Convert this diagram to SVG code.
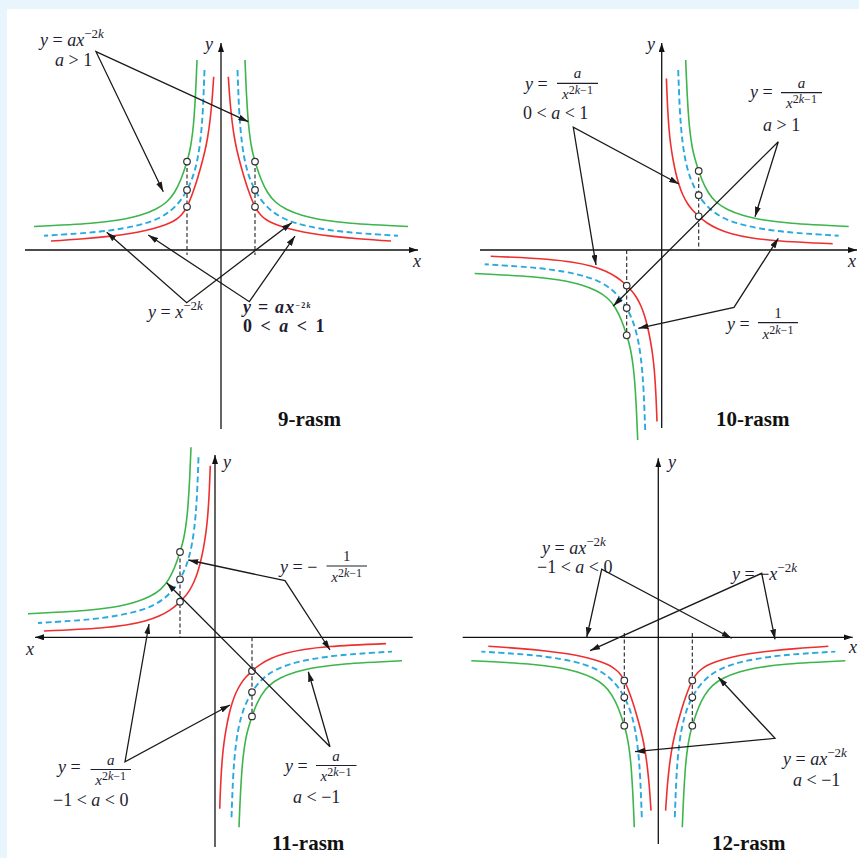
<svg xmlns="http://www.w3.org/2000/svg" width="859" height="858" viewBox="0 0 859 858">
<style>
.t{font-family:"Liberation Serif","DejaVu Serif",serif;font-size:18px;fill:#1e1e30}
.sm{font-size:15px}
.i{font-style:italic}
.cap{font-family:"Liberation Serif","DejaVu Serif",serif;font-weight:bold;font-size:21px;fill:#111}
.ax{stroke:#111;stroke-width:1.3;fill:none;marker-end:url(#aa)}
.cn{stroke:#1a1a1a;stroke-width:1.3;fill:none;marker-start:url(#ah);marker-end:url(#ah)}
.g{stroke:#3cb54c;stroke-width:1.6;fill:none}
.b{stroke:#2aa9e0;stroke-width:1.9;stroke-dasharray:6 3.5;fill:none}
.r{stroke:#ef2f2f;stroke-width:1.6;fill:none}
.dv{stroke:#222;stroke-width:1.1;stroke-dasharray:4 2.5;fill:none}
.pt{fill:#fff;stroke:#333;stroke-width:1.2}
.bar{stroke:#1e1e30;stroke-width:1.2}
</style>
<defs>
<marker id="ah" viewBox="0 0 10 6" refX="10" refY="3" markerWidth="10" markerHeight="6" orient="auto-start-reverse" markerUnits="userSpaceOnUse"><path d="M0,0 L10,3 L0,6 z" fill="#1a1a1a"/></marker>
<marker id="aa" viewBox="0 0 9 6" refX="9" refY="3" markerWidth="9" markerHeight="6" orient="auto" markerUnits="userSpaceOnUse"><path d="M0,0 L9,3 L0,6 z" fill="#111"/></marker>
<path id="G" d="M24,-190 Q25,-165 25.6,-154 Q26.2,-143 26.85,-134 Q27.5,-125 28.4,-117.5 Q29.3,-110 30.4,-103.75 Q31.5,-97.5 32.9,-92.5 Q34.3,-87.5 36.15,-81.75 Q38,-76 40.5,-69.75 Q43,-63.5 46.5,-57.75 Q50,-52 54.5,-48 Q59,-44 65.5,-40.75 Q72,-37.5 81,-34.75 Q90,-32 102.5,-30 Q115,-28 130,-26.75 Q145,-25.5 187,-23.5"/>
<path id="B" d="M16.5,-180 Q17.4,-155 17.95,-144 Q18.5,-133 19.25,-124 Q20,-115 21,-107 Q22,-99 23.25,-92.5 Q24.5,-86 26,-80.5 Q27.5,-75 29.25,-70.5 Q31,-66 33,-62 Q35,-58 37.5,-54 Q40,-50 43.5,-46 Q47,-42 51.5,-38.5 Q56,-35 62,-32 Q68,-29 76.5,-26.5 Q85,-24 97.5,-21.75 Q110,-19.5 125,-18 Q140,-16.5 177,-14.3"/>
<path id="Re" d="M7.3,-173.3 Q8.5,-155 9.25,-146.5 Q10,-138 11,-129.5 Q12,-121 13.25,-113.5 Q14.5,-106 16,-99.5 Q17.5,-93 19.25,-86.5 Q21,-80 23,-73.25 Q25,-66.5 27,-60.75 Q29,-55 31,-50 Q33,-45 35,-41.5 Q37,-38 39.5,-35.25 Q42,-32.5 45,-30.5 Q48,-28.5 52,-26.75 Q56,-25 61.5,-23.25 Q67,-21.5 74.5,-19.75 Q82,-18 91,-16.5 Q100,-15 112.5,-13.65 Q125,-12.3 137.5,-11.3 Q150,-10.3 170,-9"/>
<path id="Ro" d="M4.7,-171.5 Q5.5,-150 6.05,-140 Q6.6,-130 7.3,-121.5 Q8,-113 9,-105.5 Q10,-98 11.25,-91 Q12.5,-84 14,-77.5 Q15.5,-71 17.25,-65.5 Q19,-60 21,-55.5 Q23,-51 25.5,-47 Q28,-43 31,-39.75 Q34,-36.5 37.5,-33.25 Q41,-30 45.5,-27 Q50,-24 56,-21.25 Q62,-18.5 70,-16.25 Q78,-14 89,-12.25 Q100,-10.5 115,-9.25 Q130,-8 171,-6.3"/>
</defs>
<rect x="0" y="0" width="859" height="858" fill="#e9f5fc"/>
<rect x="7" y="9" width="852" height="849" fill="#ffffff"/>

<g id="fig9">
<line class="ax" x1="25" y1="250" x2="418" y2="250"/>
<line class="ax" x1="221" y1="429" x2="221" y2="43"/>
<text class="t i" x="205" y="50">y</text>
<text class="t i" x="413" y="267">x</text>
<use href="#G" class="g" transform="translate(221,250)"/>
<use href="#G" class="g" transform="translate(221,250) scale(-1,1)"/>
<use href="#B" class="b" transform="translate(221,250)"/>
<use href="#B" class="b" transform="translate(221,250) scale(-1,1)"/>
<use href="#Re" class="r" transform="translate(221,250)"/>
<use href="#Re" class="r" transform="translate(221,250) scale(-1,1)"/>
<line class="dv" x1="187" y1="161.6" x2="187" y2="255"/>
<line class="dv" x1="255" y1="161.6" x2="255" y2="255"/>
<circle class="pt" cx="187" cy="161.6" r="3.3"/><circle class="pt" cx="187" cy="190" r="3.3"/><circle class="pt" cx="187" cy="206.8" r="3.3"/>
<circle class="pt" cx="255" cy="161.6" r="3.3"/><circle class="pt" cx="255" cy="190" r="3.3"/><circle class="pt" cx="255" cy="206.8" r="3.3"/>
<text class="t" x="40" y="46"><tspan class="i">y</tspan> = <tspan class="i">ax</tspan><tspan dy="-8" font-size="13">−2<tspan class="i">k</tspan></tspan></text>
<text class="t" x="55" y="66"><tspan class="i">a</tspan> &gt; 1</text>
<text class="t" x="148" y="318"><tspan class="i">y</tspan> = <tspan class="i">x</tspan><tspan dy="-8" font-size="13">−2<tspan class="i">k</tspan></tspan></text>
<text class="t" x="243" y="313" font-size="12" font-weight="bold" letter-spacing="1.2"><tspan class="i">y</tspan> = <tspan class="i">ax</tspan><tspan dy="-5" font-size="8">−2<tspan class="i">k</tspan></tspan></text>
<text class="t" x="243" y="332" font-size="12" font-weight="bold" letter-spacing="2">0 &lt; <tspan class="i">a</tspan> &lt; 1</text>
<text class="cap" x="278" y="426">9-rasm</text>
</g>

<g id="fig10">
<line class="ax" x1="480" y1="250" x2="857" y2="250"/>
<line class="ax" x1="661.7" y1="428" x2="661.7" y2="43"/>
<text class="t i" x="647" y="50">y</text>
<text class="t i" x="848" y="267">x</text>
<use href="#G" class="g" transform="translate(661.7,250)"/>
<use href="#G" class="g" transform="translate(661.7,250) scale(-1,-1)"/>
<use href="#B" class="b" transform="translate(661.7,250)"/>
<use href="#B" class="b" transform="translate(661.7,250) scale(-1,-1)"/>
<use href="#Ro" class="r" transform="translate(661.7,250)"/>
<use href="#Ro" class="r" transform="translate(661.7,250) scale(-1,-1)"/>
<line class="dv" x1="698.7" y1="171" x2="698.7" y2="250"/>
<line class="dv" x1="626.7" y1="250" x2="626.7" y2="335.3"/>
<circle class="pt" cx="698.7" cy="171" r="3.3"/><circle class="pt" cx="698.7" cy="195.2" r="3.3"/><circle class="pt" cx="698.7" cy="216.3" r="3.3"/>
<circle class="pt" cx="626.7" cy="285.6" r="3.3"/><circle class="pt" cx="626.7" cy="308" r="3.3"/><circle class="pt" cx="626.7" cy="335.3" r="3.3"/>
<text class="t" x="525" y="90"><tspan class="i">y</tspan> =</text>
<line class="bar" x1="557" y1="83.3" x2="598" y2="83.3"/>
<text class="t i sm" x="577.5" y="78" text-anchor="middle">a</text>
<text class="t sm" x="577.5" y="98.5" text-anchor="middle"><tspan class="i">x</tspan><tspan dy="-5" font-size="12">2<tspan class="i">k</tspan>−1</tspan></text>
<text class="t" x="523" y="119">0 &lt; <tspan class="i">a</tspan> &lt; 1</text>
<text class="t" x="750" y="98"><tspan class="i">y</tspan> =</text>
<line class="bar" x1="781" y1="92.7" x2="822" y2="92.7"/>
<text class="t i sm" x="801.5" y="87.5" text-anchor="middle">a</text>
<text class="t sm" x="801.5" y="108" text-anchor="middle"><tspan class="i">x</tspan><tspan dy="-5" font-size="12">2<tspan class="i">k</tspan>−1</tspan></text>
<text class="t" x="763" y="131"><tspan class="i">a</tspan> &gt; 1</text>
<text class="t" x="727" y="330"><tspan class="i">y</tspan> =</text>
<line class="bar" x1="758" y1="322.7" x2="798" y2="322.7"/>
<text class="t sm" x="778" y="318" text-anchor="middle">1</text>
<text class="t sm" x="778" y="338.5" text-anchor="middle"><tspan class="i">x</tspan><tspan dy="-5" font-size="12">2<tspan class="i">k</tspan>−1</tspan></text>
<text class="cap" x="716" y="426">10-rasm</text>
</g>

<g id="fig11">
<line class="ax" x1="412.7" y1="637.3" x2="35" y2="637.3"/>
<line class="ax" x1="215" y1="847" x2="215" y2="455"/>
<text class="t i" x="223" y="468">y</text>
<text class="t i" x="26" y="655">x</text>
<use href="#G" class="g" transform="translate(215,637.3) scale(-1,1)"/>
<use href="#G" class="g" transform="translate(215,637.3) scale(1,-1)"/>
<use href="#B" class="b" transform="translate(215,637.3) scale(-1,1)"/>
<use href="#B" class="b" transform="translate(215,637.3) scale(1,-1)"/>
<use href="#Ro" class="r" transform="translate(215,637.3) scale(-1,1)"/>
<use href="#Ro" class="r" transform="translate(215,637.3) scale(1,-1)"/>
<line class="dv" x1="180" y1="552" x2="180" y2="637.3"/>
<line class="dv" x1="252" y1="637.3" x2="252" y2="716.4"/>
<circle class="pt" cx="180" cy="552" r="3.3"/><circle class="pt" cx="180" cy="579.3" r="3.3"/><circle class="pt" cx="180" cy="601.7" r="3.3"/>
<circle class="pt" cx="252" cy="671" r="3.3"/><circle class="pt" cx="252" cy="692.1" r="3.3"/><circle class="pt" cx="252" cy="716.4" r="3.3"/>
<text class="t" x="280" y="573"><tspan class="i">y</tspan> = −</text>
<line class="bar" x1="326.5" y1="566" x2="367" y2="566"/>
<text class="t sm" x="346.7" y="561" text-anchor="middle">1</text>
<text class="t sm" x="346.7" y="581.5" text-anchor="middle"><tspan class="i">x</tspan><tspan dy="-5" font-size="12">2<tspan class="i">k</tspan>−1</tspan></text>
<text class="t" x="58" y="773"><tspan class="i">y</tspan> =</text>
<line class="bar" x1="90.5" y1="769.5" x2="131" y2="769.5"/>
<text class="t i sm" x="110.7" y="764.5" text-anchor="middle">a</text>
<text class="t sm" x="110.7" y="785" text-anchor="middle"><tspan class="i">x</tspan><tspan dy="-5" font-size="12">2<tspan class="i">k</tspan>−1</tspan></text>
<text class="t" x="53" y="806">−1 &lt; <tspan class="i">a</tspan> &lt; 0</text>
<text class="t" x="285" y="772"><tspan class="i">y</tspan> =</text>
<line class="bar" x1="316" y1="765.5" x2="356.5" y2="765.5"/>
<text class="t i sm" x="336" y="760.5" text-anchor="middle">a</text>
<text class="t sm" x="336" y="781" text-anchor="middle"><tspan class="i">x</tspan><tspan dy="-5" font-size="12">2<tspan class="i">k</tspan>−1</tspan></text>
<text class="t" x="293" y="803"><tspan class="i">a</tspan> &lt; −1</text>
<text class="cap" x="272" y="850">11-rasm</text>
</g>

<g id="fig12">
<line class="ax" x1="462.7" y1="637.3" x2="852.7" y2="637.3"/>
<line class="ax" x1="658.3" y1="844" x2="658.3" y2="458.3"/>
<text class="t i" x="668" y="468">y</text>
<text class="t i" x="849" y="653">x</text>
<use href="#G" class="g" transform="translate(658.3,637.3) scale(1,-1)"/>
<use href="#G" class="g" transform="translate(658.3,637.3) scale(-1,-1)"/>
<use href="#B" class="b" transform="translate(658.3,637.3) scale(1,-1)"/>
<use href="#B" class="b" transform="translate(658.3,637.3) scale(-1,-1)"/>
<use href="#Re" class="r" transform="translate(658.3,637.3) scale(1,-1)"/>
<use href="#Re" class="r" transform="translate(658.3,637.3) scale(-1,-1)"/>
<line class="dv" x1="624.3" y1="633" x2="624.3" y2="725.7"/>
<line class="dv" x1="692.3" y1="633" x2="692.3" y2="725.7"/>
<circle class="pt" cx="624.3" cy="680.5" r="3.3"/><circle class="pt" cx="624.3" cy="697.3" r="3.3"/><circle class="pt" cx="624.3" cy="725.7" r="3.3"/>
<circle class="pt" cx="692.3" cy="680.5" r="3.3"/><circle class="pt" cx="692.3" cy="697.3" r="3.3"/><circle class="pt" cx="692.3" cy="725.7" r="3.3"/>
<text class="t" x="542" y="554"><tspan class="i">y</tspan> = <tspan class="i">ax</tspan><tspan dy="-8" font-size="13">−2<tspan class="i">k</tspan></tspan></text>
<text class="t" x="537" y="573">−1 &lt; <tspan class="i">a</tspan> &lt; 0</text>
<text class="t" x="732" y="580"><tspan class="i">y</tspan> = −<tspan class="i">x</tspan><tspan dy="-8" font-size="13">−2<tspan class="i">k</tspan></tspan></text>
<text class="t" x="783" y="765"><tspan class="i">y</tspan> = <tspan class="i">ax</tspan><tspan dy="-8" font-size="13">−2<tspan class="i">k</tspan></tspan></text>
<text class="t" x="793" y="786"><tspan class="i">a</tspan> &lt; −1</text>
<text class="cap" x="712" y="850">12-rasm</text>
</g>

<g id="connectors">
<polyline class="cn" points="163.3,191.7 96,51.7 248.3,121.7"/>
<polyline class="cn" points="106.7,232.3 186.7,302.7 291.7,222.7"/>
<polyline class="cn" points="148.3,235 249.3,301.7 295,236"/>
<polyline class="cn" points="596,265 573.3,127.3 679,184"/>
<polyline class="cn" points="755,216.7 778.3,141.7 613.3,306"/>
<polyline class="cn" points="778.3,238.3 734,307.3 638.3,328.3"/>
<polyline class="cn" points="188.3,560 285,580.7 330,650"/>
<polyline class="cn" points="149,624 125,761.7 230,705"/>
<polyline class="cn" points="308.3,671.7 330,746.7 166.7,582.7"/>
<polyline class="cn" points="586.7,637.3 601.7,569.3 731.7,638.3"/>
<polyline class="cn" points="775,639.3 761.7,573.3 590,650.7"/>
<polyline class="cn" points="718.3,677.3 775,738.3 635,751.7"/>
</g>
</svg>
